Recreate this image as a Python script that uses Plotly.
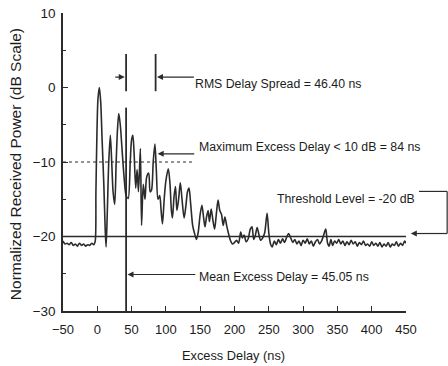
import plotly.graph_objects as go

# ---------------- data ----------------
delay_ns = [
    -50, -47, -44, -41, -38, -35, -32, -29, -26, -23, -20, -17, -14, -11, -8, -5, -3,
    -2, -0.5, 1, 3, 5, 7, 9.5, 11.5, 12.8, 14.5, 16.7, 19, 21, 23, 25.4, 27.5, 29.5,
    31.3, 33.5, 36, 39, 42, 45, 48, 50, 51.8, 53.5, 56, 58, 60, 62.8, 64.5, 67, 69.5,
    72, 75, 77, 79, 81.5, 84, 86, 88.5, 91, 93, 95, 97.5, 100, 103.5, 106, 108, 109.5,
    112, 114, 116, 118.5, 121, 123.5, 126.5, 129, 131.5, 133.7, 136, 139, 141.5, 144.5,
    147, 150, 152.5, 155, 157, 159, 161.5, 163.5, 166, 168.5, 171, 173.5, 176, 178.5,
    181, 183.5, 186, 188.5, 191, 194, 197, 200, 203, 206, 209, 211.5, 214, 217, 220,
    223, 225.5, 228, 230.5, 233, 235.5, 238, 241, 244, 247.5, 250, 252.5, 255, 258,
    261, 264, 267, 270, 273, 276, 279, 282, 285, 288, 291, 294, 297, 300, 303, 306,
    309, 312, 315, 318, 321, 324, 327, 330, 333, 335.5, 338, 340.5, 343, 346, 349, 352,
    355, 358, 361, 364, 367, 370, 373, 376, 379, 382, 385, 388, 391, 394, 397, 400,
    403, 406, 409, 412, 415, 418, 421, 424, 427, 430, 433, 436, 439, 442, 445, 448, 450,
]
power_db = [
    -20.6, -21.0, -20.9, -21.1, -20.8, -21.2, -21.0, -21.3, -20.9, -21.2, -21.0, -21.3, -21.1, -21.2, -20.9, -21.1, -20.6,
    -14, -6, -1.5, 0.0, -2, -7, -13, -19, -21.4, -17, -10, -6.4, -10, -14, -15.7, -10, -5.5,
    -3.5, -5, -8.2, -12, -14.5, -14.9, -10, -7, -6.4, -8.5, -13.5, -11, -14, -8.2, -18.5, -13, -15,
    -12, -11.5, -14, -13.8, -10, -7.6, -11, -15, -14.5, -16.5, -18.3, -15, -12.5, -10.9, -13, -16.5, -17.5,
    -14.5, -13.3, -16.5, -15, -12.8, -15, -17.5, -16, -14, -13.5, -15.5, -18.5, -19.5, -20.4,
    -19.5, -17, -15.8, -17.5, -18.7, -17.5, -16.5, -18, -16.3, -17.8, -19, -17, -15.1, -16.5,
    -17, -18.5, -17.4, -18.5, -19.5, -20.5, -21, -20.8, -20.5, -20.9, -19.4, -20.2, -19.8, -20.7, -20.3,
    -19, -18.7, -20.4, -19.8, -18.8, -19.7, -20.5, -20.2, -19.5, -16.9, -19.5, -21, -21.4, -20.6,
    -21.1, -20.4, -20.9, -20.3, -20.8, -20.1, -19.6, -20.2, -20.8, -20.4, -21.0, -20.6, -21.2, -20.5, -20.9, -20.3,
    -21.0, -20.6, -21.3, -20.7, -20.4, -21.0, -20.6, -19.8, -19.0, -20.8, -21.3, -20.4, -21.2, -20.6, -20.9, -20.4,
    -21.0, -20.6, -21.2, -20.7, -21.1, -20.5, -21.0, -20.7, -21.3, -20.8, -21.1, -20.6, -21.2, -21.0, -21.3, -20.7,
    -21.2, -20.9, -21.3, -20.8, -21.4, -21.0, -21.3, -20.8, -21.4, -21.0, -21.2, -20.7, -21.3, -20.9, -21.2, -20.6, -20.9,
]

x_tick_vals = [-50, 0, 50, 100, 150, 200, 250, 300, 350, 400, 450]
y_tick_vals = [10, 0, -10, -20, -30]

threshold_db = -20
max_excess_level_db = -10
mean_excess_marker_ns = 42
rms_marker_ns = [42, 85]

label_rms = "RMS Delay Spread = 46.40 ns"
label_max = "Maximum Excess Delay < 10 dB = 84 ns"
label_thr = "Threshold Level = -20 dB"
label_mean = "Mean Excess Delay = 45.05 ns"
x_title = "Excess Delay (ns)"
y_title = "Normalized Received Power (dB Scale)"

# ---------------- figure ----------------
INK = "#2b2b2b"
TXT = "#1c1c1c"
FONT = "Liberation Sans, Arial, sans-serif"
X0, X1 = -50, 450
Y0, Y1 = -30, 10


def xp(ns):
    """data x -> paper x"""
    return (ns - X0) / (X1 - X0)


def yp(db):
    """data y -> paper y"""
    return (db - Y0) / (Y1 - Y0)


fig = go.Figure()
fig.add_trace(go.Scatter(
    x=delay_ns, y=power_db, mode="lines",
    line=dict(color=INK, width=1.6, shape="spline", smoothing=0.8),
    hoverinfo="skip", showlegend=False,
))

shapes = [
    dict(type="line", xref="x", yref="y", x0=X0, x1=X1, y0=threshold_db, y1=threshold_db,
         line=dict(color=INK, width=1.5)),
    dict(type="line", xref="x", yref="y", x0=X0, x1=142, y0=max_excess_level_db, y1=max_excess_level_db,
         line=dict(color=INK, width=1.2, dash="dot")),
    dict(type="line", xref="x", yref="y", x0=mean_excess_marker_ns, x1=mean_excess_marker_ns,
         y0=-2.7, y1=-30, line=dict(color=INK, width=1.8)),
    # threshold bracket, right of the plot area
    dict(type="line", xref="paper", yref="paper", x0=xp(469), x1=xp(510), y0=yp(-13.95), y1=yp(-13.95),
         line=dict(color=INK, width=1.2)),
    dict(type="line", xref="paper", yref="paper", x0=xp(510), x1=xp(510), y0=yp(-13.95), y1=yp(-19.6),
         line=dict(color=INK, width=1.2)),
    dict(type="line", xref="paper", yref="paper", x0=xp(466), x1=xp(510), y0=yp(-19.6), y1=yp(-19.6),
         line=dict(color=INK, width=1.2)),
]
for r in rms_marker_ns:
    shapes.append(dict(type="line", xref="x", yref="y", x0=r, x1=r, y0=-0.5, y1=4.5,
                       line=dict(color=INK, width=1.8)))

arrow_kw = dict(showarrow=True, arrowhead=2, arrowsize=1, arrowwidth=1.2, arrowcolor=INK,
                text="", standoff=0)
annotations = [
    dict(x=40, y=1.4, ax=24, ay=1.4, axref="x", ayref="y", xref="x", yref="y", **arrow_kw),
    dict(x=87, y=1.4, ax=143, ay=1.4, axref="x", ayref="y", xref="x", yref="y", **arrow_kw),
    dict(x=88, y=-8.9, ax=143.5, ay=-8.9, axref="x", ayref="y", xref="x", yref="y", **arrow_kw),
    dict(x=44, y=-25.1, ax=145, ay=-25.1, axref="x", ayref="y", xref="x", yref="y", **arrow_kw),
    # threshold arrow head (tail drawn by the bracket shape)
    dict(x=xp(457), y=yp(-19.6), ax=12, ay=0, xref="paper", yref="paper", **arrow_kw),
]
txt_font = dict(family=FONT, size=12.3, color=TXT)
for text, x, y in [(label_rms, 139.5, 0.5), (label_max, 146, -8.0),
                   (label_thr, 259, -15.0), (label_mean, 146, -25.5)]:
    annotations.append(dict(x=x, y=y, xref="x", yref="y", text=text, showarrow=False,
                            xanchor="left", yanchor="middle", font=txt_font))

annotations.append(dict(x=0.496, y=-0.15, xref="paper", yref="paper", text=x_title,
                        showarrow=False, xanchor="center", yanchor="middle",
                        font=dict(family=FONT, size=12.8, color=TXT)))
annotations.append(dict(x=-0.140, y=0.4926, xref="paper", yref="paper", text=y_title,
                        showarrow=False, textangle=-90, xanchor="center", yanchor="middle",
                        font=dict(family=FONT, size=15.5, color=TXT)))

fig.update_layout(
    width=448, height=366, autosize=False,
    margin=dict(l=63, r=42, t=13, b=55),
    paper_bgcolor="white", plot_bgcolor="white",
    shapes=shapes, annotations=annotations,
    xaxis=dict(range=[X0, X1], tickvals=x_tick_vals, ticks="inside", ticklen=5, tickwidth=1.2,
               tickcolor=INK, showline=True, linecolor=INK, linewidth=1.5, showgrid=False,
               zeroline=False, tickfont=dict(family=FONT, size=13, color=TXT),
               ticklabelstandoff=6, fixedrange=True, automargin=False),
    yaxis=dict(range=[Y0, Y1], tickvals=y_tick_vals, ticks="inside", ticklen=5, tickwidth=1.2,
               tickcolor=INK, showline=True, linecolor=INK, linewidth=1.5, showgrid=False,
               zeroline=False, tickfont=dict(family=FONT, size=13.5, color=TXT),
               minor=dict(tickvals=[5, -5, -15, -25], ticks="inside", ticklen=3, tickcolor=INK,
                          showgrid=False),
               ticklabelstandoff=3, fixedrange=True, automargin=False),
)

fig.write_html(
    "out.html",
    config={"displayModeBar": False},
    post_script="document.body.style.margin='0px';document.body.style.overflow='hidden';",
)
